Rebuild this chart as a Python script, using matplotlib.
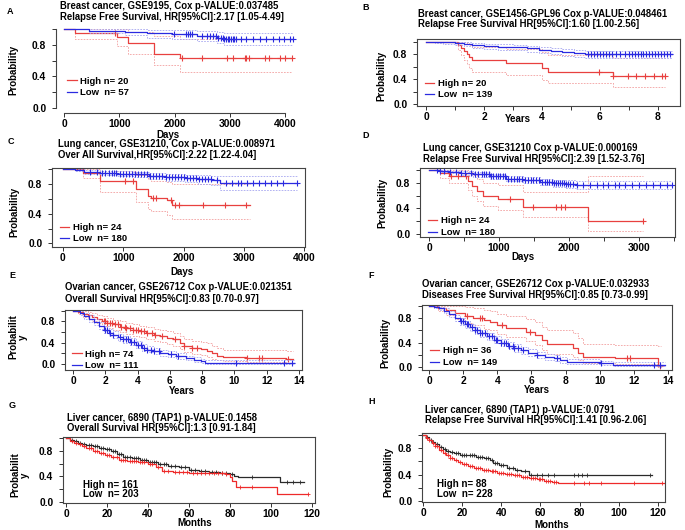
import matplotlib
matplotlib.use("Agg")
import matplotlib.pyplot as plt
import numpy as np

plt.rcParams['font.family'] = ['Liberation Sans', 'DejaVu Sans']
plt.rcParams['font.weight'] = 'bold'

# ---- A: breast GSE9195 (days) ----
a_high_t = [0, 200, 950, 1150, 1620, 2100, 4120]
a_high_s = [1.0, 0.95, 0.90, 0.82, 0.69, 0.63, 0.63]
a_high_lo = [1.0, 0.87, 0.79, 0.69, 0.55, 0.46, 0.46]
a_high_hi = [1.0, 1.0, 1.0, 0.97, 0.91, 0.87, 0.87]
a_high_cens = [930, 2130, 2490, 2940, 3060, 3280, 3300, 3340, 3640, 3700, 3910, 4000, 4120]
a_low_t = [0, 450, 1100, 1500, 1950, 2400, 2760, 2900, 4150]
a_low_s = [1.0, 0.982, 0.965, 0.947, 0.935, 0.914, 0.89, 0.878, 0.878]
a_low_lo = [1.0, 0.95, 0.92, 0.89, 0.87, 0.85, 0.82, 0.80, 0.80]
a_low_hi = [1.0, 1.0, 1.0, 0.99, 0.985, 0.975, 0.96, 0.955, 0.955]
a_low_cens = [1980, 2200, 2250, 2280, 2310, 2500, 2580, 2640, 2690, 2750, 2790, 2830, 2870,
              2900, 2930, 2960, 2990, 3020, 3050, 3080, 3110, 3200, 3300, 3420, 3550, 3660,
              3780, 3880, 3980, 4080, 4150]

# ---- B: breast GSE1456 (years) ----
b_high_t = [0, 1.1, 1.2, 1.3, 1.4, 1.5, 1.6, 2.75, 4.0, 4.2, 6.45, 8.25]
b_high_s = [1.0, 0.95, 0.90, 0.85, 0.80, 0.75, 0.70, 0.65, 0.58, 0.51, 0.45, 0.45]
b_high_lo = [1.0, 0.86, 0.78, 0.71, 0.64, 0.58, 0.52, 0.46, 0.39, 0.33, 0.27, 0.27]
b_high_hi = [1.0, 1.0, 1.0, 1.0, 0.98, 0.95, 0.91, 0.88, 0.84, 0.79, 0.74, 0.74]
b_high_cens = [5.95, 6.45, 6.95, 7.25, 7.55, 7.85, 8.15, 8.25]
b_low_t = [0, 0.3, 0.6, 1.0, 1.3, 1.6, 2.0, 2.5, 3.0, 3.5, 3.9, 4.3, 4.7, 5.1, 5.5, 8.5]
b_low_s = [1.0, 0.99, 0.985, 0.975, 0.96, 0.94, 0.925, 0.915, 0.905, 0.89, 0.87, 0.85,
           0.83, 0.815, 0.795, 0.795]
b_low_lo = [1.0, 0.975, 0.965, 0.95, 0.93, 0.90, 0.885, 0.87, 0.86, 0.84, 0.82, 0.80,
            0.775, 0.76, 0.74, 0.74]
b_low_hi = [1.0, 1.0, 1.0, 0.995, 0.99, 0.975, 0.96, 0.955, 0.945, 0.935, 0.92, 0.90,
            0.885, 0.87, 0.855, 0.855]
b_low_cens = [5.6, 5.7, 5.8, 5.9, 6.0, 6.1, 6.2, 6.3, 6.4, 6.55, 6.7, 6.85, 7.0, 7.1, 7.2,
              7.3, 7.4, 7.5, 7.6, 7.7, 7.8, 7.9, 8.0, 8.1, 8.2, 8.3, 8.4]

# ---- C: lung GSE31210 OS (days) ----
c_high_t = [0, 330, 620, 1210, 1410, 1460, 1730, 1810, 3100]
c_high_s = [1.0, 0.958, 0.84, 0.73, 0.645, 0.62, 0.585, 0.525, 0.525]
c_high_lo = [1.0, 0.88, 0.70, 0.56, 0.46, 0.44, 0.39, 0.33, 0.33]
c_high_hi = [1.0, 1.0, 0.98, 0.93, 0.87, 0.85, 0.83, 0.80, 0.80]
c_high_cens = [1030, 1160, 1490, 1540, 1790, 1860, 1920, 2320, 2680, 3030]
c_low_t = [0, 200, 350, 620, 900, 1160, 1430, 1700, 2030, 2240, 2460, 2600, 3870]
c_low_s = [1.0, 0.99, 0.97, 0.955, 0.945, 0.933, 0.91, 0.893, 0.88, 0.867, 0.853, 0.813, 0.813]
c_low_lo = [1.0, 0.975, 0.945, 0.925, 0.91, 0.895, 0.87, 0.85, 0.83, 0.81, 0.79, 0.72, 0.72]
c_low_hi = [1.0, 1.0, 0.99, 0.98, 0.975, 0.965, 0.95, 0.94, 0.93, 0.925, 0.915, 0.91, 0.91]
c_low_cens = [450, 560, 640, 700, 760, 820, 850, 880, 940, 1000, 1050, 1100, 1150, 1200,
              1250, 1300, 1350, 1400, 1450, 1500, 1550, 1600, 1650, 1700, 1750, 1800, 1850,
              1900, 1950, 2000, 2050, 2100, 2150, 2200, 2250, 2300, 2350, 2400, 2450, 2550,
              2700, 2800, 2900, 2950, 3050, 3150, 3250, 3350, 3450, 3550, 3650, 3870]

# ---- D: lung GSE31210 RFS (days) ----
d_high_t = [0, 150, 290, 560, 610, 680, 770, 990, 1340, 2270, 3060]
d_high_s = [1.0, 0.958, 0.90, 0.83, 0.75, 0.67, 0.59, 0.545, 0.415, 0.21, 0.21]
d_high_lo = [1.0, 0.88, 0.79, 0.69, 0.60, 0.51, 0.43, 0.38, 0.26, 0.05, 0.05]
d_high_hi = [1.0, 1.0, 1.0, 0.97, 0.92, 0.86, 0.80, 0.76, 0.65, 0.90, 0.90]
d_high_cens = [310, 415, 535, 1150, 1490, 1810, 1890, 1940, 3060]
d_low_t = [0, 150, 295, 450, 630, 870, 1100, 1340, 1580, 1770, 1960, 2100, 3470]
d_low_s = [1.0, 0.985, 0.97, 0.95, 0.93, 0.90, 0.865, 0.84, 0.81, 0.79, 0.775, 0.765, 0.765]
d_low_lo = [1.0, 0.965, 0.945, 0.92, 0.895, 0.86, 0.82, 0.79, 0.76, 0.735, 0.72, 0.70, 0.70]
d_low_hi = [1.0, 1.0, 0.99, 0.98, 0.965, 0.94, 0.91, 0.89, 0.86, 0.845, 0.835, 0.83, 0.83]
d_low_cens = [110, 160, 220, 300, 380, 450, 520, 600, 650, 700, 750, 790, 820, 850, 880,
              910, 950, 980, 1010, 1050, 1090, 1130, 1170, 1210, 1250, 1290, 1330, 1370,
              1410, 1450, 1490, 1530, 1570, 1610, 1650, 1690, 1720, 1750, 1780, 1810, 1840,
              1870, 1900, 1930, 1960, 1990, 2020, 2060, 2120, 2200, 2300, 2400, 2480, 2560,
              2650, 2720, 2800, 2900, 3000, 3100, 3200, 3300, 3400, 3470]

# ---- E: ovarian GSE26712 OS (years) ----
e_high_t = [0, 0.3, 0.6, 0.9, 1.2, 1.5, 1.8, 2.1, 2.5, 2.9, 3.3, 3.7, 4.1, 4.5, 5.0, 5.4,
            5.8, 6.2, 6.6, 6.9, 7.4, 7.9, 8.3, 8.6, 8.9, 9.3, 10.7, 13.2, 13.65]
e_high_s = [1.0, 0.97, 0.94, 0.91, 0.88, 0.84, 0.80, 0.77, 0.74, 0.70, 0.67, 0.64, 0.61,
            0.58, 0.55, 0.53, 0.49, 0.46, 0.40, 0.33, 0.30, 0.28, 0.25, 0.20, 0.16, 0.13,
            0.12, 0.10, 0.10]
e_high_lo = [1.0, 0.93, 0.88, 0.84, 0.80, 0.76, 0.71, 0.68, 0.64, 0.60, 0.57, 0.53, 0.50,
             0.47, 0.43, 0.41, 0.37, 0.34, 0.28, 0.22, 0.19, 0.17, 0.14, 0.10, 0.07, 0.05,
             0.04, 0.03, 0.03]
e_high_hi = [1.0, 1.0, 0.99, 0.97, 0.95, 0.92, 0.89, 0.86, 0.83, 0.80, 0.77, 0.75, 0.72,
             0.69, 0.66, 0.64, 0.61, 0.58, 0.53, 0.47, 0.44, 0.42, 0.39, 0.34, 0.30, 0.27,
             0.26, 0.25, 0.25]
e_high_cens = [1.9, 2.0, 2.1, 2.3, 2.4, 2.6, 2.8, 3.0, 3.2, 3.3, 3.5, 3.7, 3.9, 4.0, 4.2,
               4.4, 4.6, 4.9, 5.1, 5.5, 6.3, 6.9, 7.4, 7.7, 10.75, 11.5, 11.7, 13.3]
e_low_t = [0, 0.4, 0.7, 1.0, 1.3, 1.6, 1.9, 2.2, 2.5, 2.8, 3.1, 3.5, 3.9, 4.3, 4.6, 5.0,
           5.4, 5.9, 6.4, 7.0, 7.5, 7.9, 8.2, 13.7]
e_low_s = [1.0, 0.96, 0.90, 0.85, 0.79, 0.71, 0.64, 0.59, 0.54, 0.50, 0.46, 0.41, 0.36,
           0.31, 0.27, 0.24, 0.21, 0.18, 0.15, 0.11, 0.08, 0.05, 0.03, 0.03]
e_low_lo = [1.0, 0.92, 0.85, 0.79, 0.73, 0.65, 0.58, 0.53, 0.48, 0.44, 0.40, 0.35, 0.30,
            0.25, 0.22, 0.19, 0.16, 0.13, 0.10, 0.07, 0.04, 0.02, 0.01, 0.01]
e_low_hi = [1.0, 0.99, 0.95, 0.91, 0.85, 0.78, 0.71, 0.66, 0.61, 0.57, 0.53, 0.48, 0.43,
            0.38, 0.34, 0.30, 0.27, 0.24, 0.21, 0.16, 0.13, 0.10, 0.07, 0.07]
e_low_cens = [2.0, 2.1, 2.3, 2.5, 2.9, 3.1, 3.3, 3.4, 3.6, 3.8, 4.0, 4.2, 4.4, 4.6, 4.8,
              5.0, 5.3, 6.1, 6.5, 10.1, 13.1, 13.6]

# ---- F: ovarian GSE26712 DFS (years) ----
f_high_t = [0, 0.5, 1.0, 1.5, 2.1, 2.6, 3.2, 3.6, 4.0, 4.5, 5.7, 6.2, 6.6, 6.9, 8.45,
            8.75, 9.0, 10.9, 13.4, 13.6]
f_high_s = [1.0, 0.97, 0.93, 0.88, 0.84, 0.81, 0.77, 0.74, 0.69, 0.64, 0.58, 0.52, 0.44,
            0.37, 0.31, 0.23, 0.17, 0.15, 0.02, 0.02]
f_high_lo = [1.0, 0.91, 0.85, 0.78, 0.72, 0.68, 0.63, 0.60, 0.54, 0.49, 0.42, 0.36, 0.28,
             0.22, 0.17, 0.11, 0.07, 0.05, 0.0, 0.0]
f_high_hi = [1.0, 1.0, 1.0, 1.0, 0.98, 0.96, 0.93, 0.91, 0.87, 0.83, 0.78, 0.73, 0.66,
             0.60, 0.55, 0.47, 0.38, 0.36, 0.35, 0.35]
f_high_cens = [2.2, 3.0, 3.1, 4.3, 5.9, 11.6, 11.75, 13.5]
f_low_t = [0, 0.3, 0.6, 0.9, 1.2, 1.5, 1.8, 2.1, 2.4, 2.7, 3.0, 3.4, 3.8, 4.2, 4.6, 5.0,
           5.4, 5.8, 6.3, 6.8, 7.3, 7.7, 8.1, 10.0, 10.8, 13.8]
f_low_s = [1.0, 0.98, 0.96, 0.92, 0.87, 0.81, 0.75, 0.70, 0.65, 0.60, 0.55, 0.50, 0.45,
           0.40, 0.35, 0.31, 0.27, 0.23, 0.19, 0.16, 0.14, 0.11, 0.08, 0.06, 0.04, 0.04]
f_low_lo = [1.0, 0.96, 0.93, 0.88, 0.82, 0.76, 0.69, 0.64, 0.59, 0.54, 0.49, 0.44, 0.39,
            0.34, 0.29, 0.25, 0.21, 0.18, 0.14, 0.11, 0.09, 0.07, 0.05, 0.03, 0.02, 0.02]
f_low_hi = [1.0, 1.0, 0.99, 0.96, 0.92, 0.86, 0.81, 0.76, 0.71, 0.66, 0.61, 0.56, 0.51,
            0.46, 0.41, 0.37, 0.33, 0.29, 0.25, 0.22, 0.19, 0.16, 0.13, 0.10, 0.08, 0.08]
f_low_cens = [1.9, 2.0, 2.2, 2.3, 2.5, 2.7, 2.8, 3.0, 3.1, 3.3, 3.5, 3.7, 3.9, 4.0, 4.2,
              4.4, 4.5, 4.7, 4.9, 5.0, 5.2, 5.5, 6.3, 7.5, 10.1, 13.2, 13.5]

# ---- G: liver OS (months) ----
g_high_t = [0, 2, 4, 6, 8, 10, 13, 16, 19, 22, 26, 30, 35, 40, 44, 47, 52, 60, 70, 78,
            80, 81, 83, 103, 118]
g_high_s = [1.0, 0.96, 0.93, 0.90, 0.87, 0.84, 0.80, 0.77, 0.73, 0.70, 0.66, 0.64, 0.62,
            0.60, 0.55, 0.49, 0.47, 0.46, 0.45, 0.44, 0.39, 0.33, 0.24, 0.12, 0.12]
g_high_cens = [3, 5, 7, 9, 11, 12, 14, 15, 17, 18, 20, 21, 23, 25, 27, 28, 29, 31, 32, 33,
               34, 36, 37, 38, 41, 42, 45, 48, 50, 53, 55, 57, 59, 62, 64, 66, 68, 70, 72,
               74, 76, 78, 85, 91, 118]
g_low_t = [0, 2, 4, 6, 8, 10, 13, 16, 19, 22, 25, 28, 32, 36, 40, 45, 50, 55, 60, 65, 70,
           75, 80, 82, 84, 104.5, 116]
g_low_s = [1.0, 0.97, 0.95, 0.93, 0.91, 0.89, 0.87, 0.85, 0.83, 0.79, 0.75, 0.71, 0.68,
           0.66, 0.63, 0.60, 0.57, 0.54, 0.50, 0.48, 0.47, 0.46, 0.44, 0.41, 0.39, 0.31, 0.31]
g_low_cens = [3, 5, 7, 9, 11, 12, 14, 15, 17, 18, 20, 21, 23, 24, 26, 27, 29, 30, 31, 33,
              34, 35, 37, 38, 39, 41, 42, 43, 44, 46, 48, 49, 51, 53, 56, 58, 61, 63, 66,
              68, 71, 73, 76, 78, 81, 91, 108, 111, 114]

# ---- H: liver RFS (months) ----
h_high_t = [0, 1.5, 3, 4.5, 6, 8, 10, 12, 14, 16, 18, 20, 23, 26, 30, 34, 38, 42, 46, 50,
            54, 58, 62, 66, 69, 123]
h_high_s = [1.0, 0.96, 0.92, 0.88, 0.83, 0.78, 0.73, 0.69, 0.65, 0.62, 0.59, 0.56, 0.53,
            0.50, 0.47, 0.45, 0.43, 0.41, 0.39, 0.37, 0.35, 0.33, 0.31, 0.29, 0.27, 0.27]
h_high_cens = [2, 3, 5, 6, 7, 9, 11, 13, 14, 15, 17, 19, 21, 22, 24, 25, 27, 28, 29, 31,
               32, 33, 35, 36, 37, 39, 40, 41, 43, 44, 45, 47, 48, 49, 51, 52, 53, 55, 56,
               57, 59, 60, 61, 63, 64, 65, 67, 68, 77, 82, 85, 91, 108, 122]
h_low_t = [0, 1.5, 3, 4.5, 6, 8, 10, 12, 14, 16, 19, 23, 27, 31, 34, 36, 39, 43, 47, 50,
           54, 117]
h_low_s = [1.0, 0.97, 0.93, 0.89, 0.86, 0.82, 0.79, 0.76, 0.74, 0.72, 0.70, 0.69, 0.67,
           0.65, 0.62, 0.58, 0.55, 0.50, 0.47, 0.46, 0.40, 0.40]
h_low_cens = [2, 4, 5, 7, 9, 11, 13, 15, 17, 18, 20, 21, 22, 24, 25, 26, 28, 29, 30, 32,
              33, 35, 37, 38, 40, 41, 44, 46, 48, 52, 55, 58, 61, 64, 67, 77, 79, 81, 84, 116]

RED = '#e8403f'
BLUE = '#2a2ae0'
PINK = '#f2a0a0'
LBLUE = '#a6a6f0'
BLACK = '#2a2a2a'
GRED = '#ee2a2a'

W, H = 685, 530
fig = plt.figure(figsize=(W / 100, H / 100), dpi=100)


def fx(x):
    return x / W


def fy(y):
    return 1 - y / H


def add_ax(l, t, r, b):
    return fig.add_axes([l / W, 1 - b / H, (r - l) / W, (b - t) / H])


def km(ax, t, s, cens, color, lo=None, hi=None, cicol=None, ms=5, mk='+', mew=0.8):
    t = np.array(t)
    s = np.array(s)
    if lo is not None:
        ax.step(t, lo, where='post', color=cicol, lw=0.6, ls=(0, (2, 1.5)))
        ax.step(t, hi, where='post', color=cicol, lw=0.6, ls=(0, (2, 1.5)))
    line, = ax.step(t, s, where='post', color=color, lw=0.9)
    cens = np.array(cens)
    idx = np.searchsorted(t, cens, side='right') - 1
    ax.plot(cens, s[idx], ls='none', marker=mk, ms=ms, mew=mew, color=color)
    return line


def style(ax, xlim, ylim, xt, xtl, box=True):
    ax.set_xlim(*xlim)
    ax.set_ylim(*ylim)
    ax.set_xticks(xt)
    ax.set_xticklabels(xtl)
    ax.set_yticks([0, 0.2, 0.4, 0.6, 0.8, 1.0])
    ax.set_yticklabels(['0.0', '', '0.4', '', '0.8', ''])
    ax.tick_params(axis='both', length=3, width=0.7, color='#333333', labelsize=7.4)
    ax.tick_params(axis='y', pad=4)
    ax.tick_params(axis='x', pad=1)
    for sp in ax.spines.values():
        sp.set_linewidth(0.8)
        sp.set_color('#444444')
    if not box:
        ax.spines['top'].set_visible(False)
        ax.spines['right'].set_visible(False)
        ax.spines['left'].set_bounds(0, 1)
        ax.spines['bottom'].set_bounds(xt[0], xt[-1])
    for lab in ax.get_xticklabels() + ax.get_yticklabels():
        lab.set_fontweight('bold')


def legend(ax, h1, h2, lab1, lab2, x, y):
    ax.legend([h1, h2], [lab1, lab2], loc='center left', bbox_to_anchor=(x, y),
              frameon=False, handlelength=1.0, handletextpad=0.4, labelspacing=0.25,
              borderpad=0, borderaxespad=0, prop={'size': 6.8, 'weight': 'bold'})


def titles(x, y1, y2, l1, l2):
    fig.text(fx(x), fy(y1), l1, ha='left', va='center', fontsize=6.85, fontweight='bold')
    fig.text(fx(x), fy(y2), l2, ha='left', va='center', fontsize=6.85, fontweight='bold')


def letter(x, y, s):
    fig.text(fx(x), fy(y), s, ha='left', va='center', fontsize=6.5, fontweight='bold')


def ylab(x, y, s):
    fig.text(fx(x), fy(y), s, ha='center', va='center', rotation=90, fontsize=7,
             fontweight='bold', linespacing=1.0)


def xlab(x, y, s):
    fig.text(fx(x), fy(y), s, ha='center', va='center', fontsize=7, fontweight='bold')


# A
ax = add_ax(56, 26, 303, 113)
km(ax, a_high_t, a_high_s, a_high_cens, RED, a_high_lo, a_high_hi, PINK)
km(ax, a_low_t, a_low_s, a_low_cens, BLUE, a_low_lo, a_low_hi, LBLUE)
h1, = ax.plot([], [], color=RED, lw=0.9)
h2, = ax.plot([], [], color=BLUE, lw=0.9)
style(ax, (-145, 4322), (-0.063, 1.04), [0, 1000, 2000, 3000, 4000],
      ['0', '1000', '2000', '3000', '4000'], box=False)
legend(ax, h1, h2, 'High n= 20', 'Low  n= 57', 0.045, 0.30)
letter(7, 12, 'A')
titles(60, 6, 17, 'Breast cancer, GSE9195, Cox p-VALUE:0.037485',
       'Relapse Free Survival, HR[95%CI]:2.17 [1.05-4.49]')
ylab(13, 70, 'Probability')
xlab(168, 134.5, 'Days')

# B
ax = add_ax(417, 39, 680, 106)
h1 = km(ax, b_high_t, b_high_s, b_high_cens, RED, b_high_lo, b_high_hi, PINK)
h2 = km(ax, b_low_t, b_low_s, b_low_cens, BLUE, b_low_lo, b_low_hi, LBLUE)
style(ax, (-0.31, 8.76), (-0.032, 1.04), list(range(9)),
      ['0', '', '2', '', '4', '', '6', '', '8'])
legend(ax, h1, h2, 'High n= 20', 'Low  n= 139', 0.03, 0.25)
letter(362, 8, 'B')
titles(418, 14, 24, 'Breast cancer, GSE1456-GPL96 Cox p-VALUE:0.048461',
       'Relapse Free Survival HR[95%CI]:1.60 [1.00-2.56]')
ylab(381, 76, 'Probability')
xlab(518, 119, 'Years')

# C
ax = add_ax(52, 168, 305, 247)
h1 = km(ax, c_high_t, c_high_s, c_high_cens, RED, c_high_lo, c_high_hi, PINK)
h2 = km(ax, c_low_t, c_low_s, c_low_cens, BLUE, c_low_lo, c_low_hi, LBLUE)
style(ax, (-180, 4010), (-0.05, 1.02), [0, 1000, 2000, 3000, 4000],
      ['0', '1000', '2000', '3000', '4000'])
legend(ax, h1, h2, 'High n= 24', 'Low  n= 180', 0.03, 0.175)
letter(8, 142, 'C')
titles(58, 144, 155, 'Lung cancer, GSE31210, Cox p-VALUE:0.008971',
       'Over All Survival,HR[95%CI]:2.22 [1.22-4.04]')
ylab(14, 212, 'Probability')
xlab(182, 272, 'Days')

# D
ax = add_ax(420, 168, 675, 237)
h1 = km(ax, d_high_t, d_high_s, d_high_cens, RED, d_high_lo, d_high_hi, PINK)
h2 = km(ax, d_low_t, d_low_s, d_low_cens, BLUE, d_low_lo, d_low_hi, LBLUE)
style(ax, (-129, 3514), (-0.047, 1.03), [0, 500, 1000, 1500, 2000, 2500, 3000, 3500],
      ['0', '', '1000', '', '2000', '', '3000', ''])
legend(ax, h1, h2, 'High n= 24', 'Low  n= 180', 0.03, 0.15)
letter(362, 135, 'D')
titles(423, 148, 159, 'Lung cancer, GSE31210 Cox p-VALUE:0.000169',
       'Relapse Free Survival HR[95%CI]:2.39 [1.52-3.76]')
ylab(382, 203, 'Probability')
xlab(523, 257, 'Days')

# E
ax = add_ax(65, 310, 302, 370)
h1 = km(ax, e_high_t, e_high_s, e_high_cens, RED, e_high_lo, e_high_hi, PINK)
h2 = km(ax, e_low_t, e_low_s, e_low_cens, BLUE, e_low_lo, e_low_hi, LBLUE)
style(ax, (-0.5, 14.19), (-0.11, 1.01), list(range(0, 15, 2)),
      [str(v) for v in range(0, 15, 2)])
legend(ax, h1, h2, 'High n= 74', 'Low  n= 111', 0.03, 0.17)
letter(9, 275, 'E')
titles(65, 287, 299, 'Ovarian cancer, GSE26712 Cox p-VALUE:0.021351',
       'Overall Survival HR[95%CI]:0.83 [0.70-0.97]')
ylab(18, 337, 'Probabilit\ny')
xlab(182, 391, 'Years')

# F
ax = add_ax(422, 305, 672, 370)
h1 = km(ax, f_high_t, f_high_s, f_high_cens, RED, f_high_lo, f_high_hi, PINK)
h2 = km(ax, f_low_t, f_low_s, f_low_cens, BLUE, f_low_lo, f_low_hi, LBLUE)
style(ax, (-0.41, 14.23), (-0.05, 1.016), list(range(0, 15, 2)),
      [str(v) for v in range(0, 15, 2)])
legend(ax, h1, h2, 'High n= 36', 'Low  n= 149', 0.03, 0.205)
letter(368, 275, 'F')
titles(422, 284, 295, 'Ovarian cancer, GSE26712 Cox p-VALUE:0.032933',
       'Diseases Free Survival HR[95%CI]:0.85 [0.73-0.99]')
ylab(385, 343, 'Probability')
xlab(537, 390, 'Years')

# G
ax = add_ax(63, 437, 315, 503)
km(ax, g_low_t, g_low_s, g_low_cens, BLACK, ms=2.5, mew=0.6)
km(ax, g_high_t, g_high_s, g_high_cens, GRED, ms=2.5, mew=0.6)
style(ax, (-1.46, 121.5), (-0.016, 1.016), list(range(0, 121, 20)),
      [str(v) for v in range(0, 121, 20)])
ax.text(0.08, 0.27, 'High n= 161', transform=ax.transAxes, fontsize=7,
        fontweight='bold', va='center')
ax.text(0.08, 0.13, 'Low  n= 203', transform=ax.transAxes, fontsize=7,
        fontweight='bold', va='center')
letter(9, 405, 'G')
titles(67, 418, 428, 'Liver cancer, 6890 (TAP1) p-VALUE:0.1458',
       'Overall Survival HR[95%CI]:1.3 [0.91-1.84]')
ylab(20, 475, 'Probabilit\ny')
xlab(195, 523, 'Months')

# H
ax = add_ax(422, 433, 665, 502)
km(ax, h_low_t, h_low_s, h_low_cens, BLACK, ms=2.5, mew=0.6)
km(ax, h_high_t, h_high_s, h_high_cens, GRED, ms=2.5, mew=0.6)
style(ax, (-0.5, 123.6), (-0.015, 1.03), list(range(0, 121, 20)),
      [str(v) for v in range(0, 121, 20)])
ax.text(0.062, 0.26, 'High n= 88', transform=ax.transAxes, fontsize=7,
        fontweight='bold', va='center')
ax.text(0.062, 0.12, 'Low  n= 228', transform=ax.transAxes, fontsize=7,
        fontweight='bold', va='center')
letter(368, 402, 'H')
titles(425, 410, 420, 'Liver cancer, 6890 (TAP1) p-VALUE:0.0791',
       'Relapse Free Survival HR[95%CI]:1.41 [0.96-2.06]')
ylab(388, 472, 'Probability')
xlab(552, 525, 'Months')

fig.savefig('out.png', dpi=100, facecolor='white')
